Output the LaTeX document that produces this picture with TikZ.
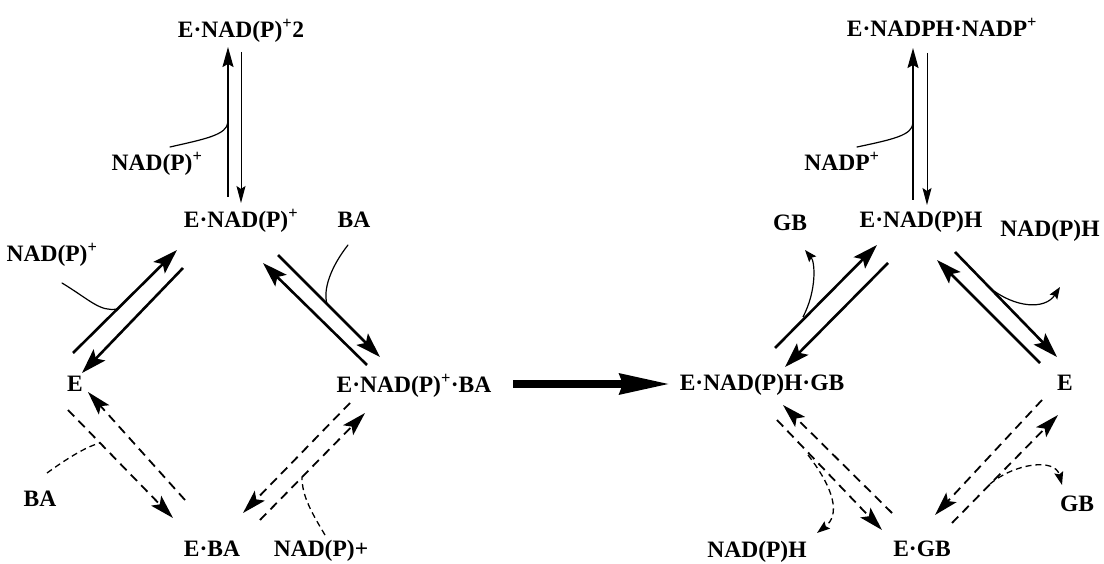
\documentclass[tikz,border=0pt]{standalone}
\usepackage{fontspec}
\setmainfont{Liberation Serif}
\usetikzlibrary{arrows.meta}

\begin{document}
\begin{tikzpicture}[x=1pt,y=1pt,
  lbl/.style={text=drawColor,anchor=base,inner sep=0pt,outer sep=0pt,font=\fontsize{23.5}{24}\selectfont\bfseries},
  bigstep/.style={draw=drawColor,line width=2.6pt,-{Stealth[length=25pt,width=16pt,inset=5pt]}},
  upstep/.style={draw=drawColor,line width=1.6pt,-{Stealth[length=20pt,width=11pt,inset=3pt]}},
  downstep/.style={draw=drawColor,line width=1.0pt,-{Stealth[length=17pt,width=9pt,inset=3pt]}},
  dashstep/.style={draw=drawColor,line width=1.8pt,dash pattern=on 9pt off 6pt,-{Stealth[length=24pt,width=14pt,inset=5pt]}},
  binds/.style={draw=drawColor,line width=1.2pt,line cap=round},
  leaves/.style={draw=drawColor,line width=1.2pt,-{Stealth[length=12pt,width=9pt,inset=2pt]}},
  dbinds/.style={draw=drawColor,line width=1.3pt,dash pattern=on 6pt off 4pt},
  dleaves/.style={draw=drawColor,line width=1.3pt,dash pattern=on 6pt off 4pt,-{Stealth[length=13pt,width=9pt,inset=2pt]}}]
\definecolor{fillColor}{RGB}{255,255,255}
\definecolor{drawColor}{RGB}{0,0,0}
\path[use as bounding box,fill=fillColor] (0,0) rectangle (1104,563);

% species
\node[lbl] (enad2) at ( 241.00,525.00) {E·NAD(P)\textsuperscript{+}2};
\node[lbl] (enadphnadp) at ( 942.00,526.00) {E·NADPH·NADP\textsuperscript{+}};
\node[lbl] (enad) at ( 241.00,335.00) {E·NAD(P)\textsuperscript{+}};
\node[lbl] (enadh) at ( 921.00,335.00) {E·NAD(P)H};
\node[lbl] (eleft) at (  75.00,171.00) {E};
\node[lbl] (enadba) at ( 414.00,170.00) {E·NAD(P)\textsuperscript{+}·BA};
\node[lbl] (enadhgb) at ( 762.00,172.00) {E·NAD(P)H·GB};
\node[lbl] (eright) at (1065.00,172.00) {E};
\node[lbl] (eba) at ( 212.00,  7.00) {E·BA};
\node[lbl] (egb) at ( 922.00,  7.00) {E·GB};

% ligands
\node[lbl] (nadptop) at ( 157.00,392.00) {NAD(P)\textsuperscript{+}};
\node[lbl] (nadprtop) at ( 842.00,392.00) {NADP\textsuperscript{+}};
\node[lbl] (nadpleft) at (  52.00,301.00) {NAD(P)\textsuperscript{+}};
\node[lbl] (batop) at ( 354.00,335.00) {BA};
\node[lbl] (gbtop) at ( 790.00,332.00) {GB};
\node[lbl] (nadhright) at (1050.00,326.00) {NAD(P)H};
\node[lbl] (babot) at (  40.00, 57.00) {BA};
\node[lbl] (nadpbot) at ( 321.00,  7.00) {NAD(P)+};
\node[lbl] (nadhbot) at ( 757.00,  6.00) {NAD(P)H};
\node[lbl] (gbbot) at (1077.00, 52.00) {GB};

% arrow ends
\coordinate (upl0) at ( 228.00,366.00);
\coordinate (upl1) at ( 228.00,516.00);
\coordinate (dnl0) at ( 241.00,511.00);
\coordinate (dnl1) at ( 241.00,360.00);
\coordinate (upr0) at ( 913.00,363.00);
\coordinate (upr1) at ( 913.00,515.00);
\coordinate (dnr0) at ( 927.00,510.00);
\coordinate (dnr1) at ( 927.00,358.00);
\coordinate (a10) at (  73.00,210.00);
\coordinate (a11) at ( 177.00,313.00);
\coordinate (a20) at ( 183.00,295.00);
\coordinate (a21) at (  82.00,190.00);
\coordinate (b10) at ( 278.00,308.00);
\coordinate (b11) at ( 380.00,206.00);
\coordinate (b20) at ( 367.00,198.00);
\coordinate (b21) at ( 263.00,300.00);
\coordinate (c10) at (  68.00,153.00);
\coordinate (c11) at ( 173.00, 45.00);
\coordinate (c20) at ( 185.00, 63.00);
\coordinate (c21) at (  88.00,171.00);
\coordinate (d10) at ( 260.00, 43.00);
\coordinate (d11) at ( 365.00,150.00);
\coordinate (d20) at ( 350.00,160.00);
\coordinate (d21) at ( 243.00, 50.00);
\coordinate (f10) at ( 775.00,215.00);
\coordinate (f11) at ( 877.00,318.00);
\coordinate (f20) at ( 888.00,300.00);
\coordinate (f21) at ( 785.00,196.00);
\coordinate (g10) at ( 955.00,311.00);
\coordinate (g11) at (1057.00,206.00);
\coordinate (g20) at (1040.00,200.00);
\coordinate (g21) at ( 937.00,303.00);
\coordinate (h10) at ( 777.00,143.00);
\coordinate (h11) at ( 882.00, 33.00);
\coordinate (h20) at ( 892.00, 50.00);
\coordinate (h21) at ( 783.00,158.00);
\coordinate (i10) at ( 952.00, 40.00);
\coordinate (i11) at (1058.00,148.00);
\coordinate (i20) at (1042.00,163.00);
\coordinate (i21) at ( 935.00, 48.00);

% NAD(P)+ inhibition, top
\path[upstep] (upl0) -- (upl1);
\path[downstep] (dnl0) -- (dnl1);
\path[binds] (170.00,416.00) .. controls (205.00,424.00) and (227.00,428.00) .. (228.00,441.00);
\path[upstep] (upr0) -- (upr1);
\path[downstep] (dnr0) -- (dnr1);
\path[binds] (857.00,416.00) .. controls (895.00,424.00) and (912.00,428.00) .. (913.00,440.00);

% ordered path, left
\path[bigstep] (a10) -- (a11);
\path[bigstep] (a20) -- (a21);
\path[binds] ( 62.00,280.00) .. controls ( 90.00,263.00) and (100.00,251.00) .. (117.00,254.00);
\path[bigstep] (b10) -- (b11);
\path[bigstep] (b20) -- (b21);
\path[binds] (348.00,318.00) .. controls (330.00,295.00) and (323.00,273.00) .. (327.00,259.00);

% random path, left
\path[dashstep] (c10) -- (c11);
\path[dashstep] (c20) -- (c21);
\path[dbinds] ( 47.00, 90.00) .. controls ( 65.00,103.00) and ( 85.00,116.00) .. (100.00,120.00);
\path[dashstep] (d10) -- (d11);
\path[dashstep] (d20) -- (d21);
\path[dbinds] (325.00, 28.00) .. controls (310.00, 53.00) and (302.00, 68.00) .. (302.00, 86.00);

% hydride transfer
\path[draw=drawColor,line width=7.5pt,-{Stealth[length=50pt,width=20pt,inset=3pt]}] (513.00,179.00) -- (670.00,179.00);

% ordered path, right
\path[bigstep] (f10) -- (f11);
\path[bigstep] (f20) -- (f21);
\path[leaves] (803.00,246.00) .. controls (817.00,273.00) and (815.00,301.00) .. (805.00,313.00);
\path[bigstep] (g10) -- (g11);
\path[bigstep] (g20) -- (g21);
\path[leaves] (990.00,275.00) .. controls (1015.00,255.00) and (1045.00,253.00) .. (1060.00,276.00);

% random path, right
\path[dashstep] (h10) -- (h11);
\path[dashstep] (h20) -- (h21);
\path[dleaves] (808.00,108.00) .. controls (835.00, 73.00) and (840.00, 48.00) .. (817.00, 30.00);
\path[dashstep] (i10) -- (i11);
\path[dashstep] (i20) -- (i21);
\path[dleaves] (990.00, 79.00) .. controls (1015.00,100.00) and (1055.00,105.00) .. (1062.00, 78.00);
\end{tikzpicture}
\end{document}
